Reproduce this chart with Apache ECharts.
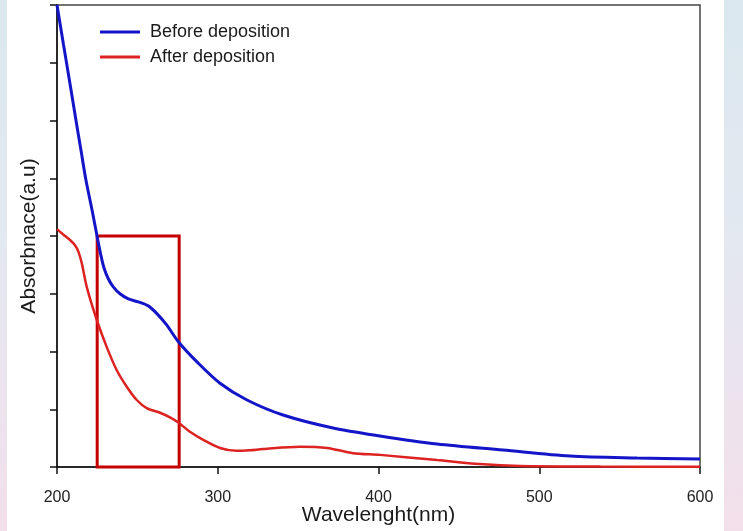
<!DOCTYPE html>
<html>
<head>
<meta charset="utf-8">
<script src="https://cdn.jsdelivr.net/npm/echarts@6/dist/echarts.min.js"></script>
<style>
  html, body { margin: 0; padding: 0; }
  body {
    width: 743px; height: 531px; position: relative; overflow: hidden;
    background: linear-gradient(180deg, #dbe8ef 0%, #e3e8f1 45%, #f3dfea 100%);
  }
  #panel { position: absolute; left: 7px; top: 0; width: 717px; height: 531px; background: #ffffff; }
  #chart { position: absolute; left: 0; top: 0; width: 743px; height: 531px; }
</style>
</head>
<body>
<div id="panel"></div>
<div id="chart"></div>
<script>
// UV-Vis absorbance spectra (wavelength in nm, absorbance in arbitrary units)
const seriesNames = ['Before deposition', 'After deposition'];

const beforeWavelength = [200, 204, 208, 212, 215, 218, 221.8, 224.9, 227.2, 229.2, 231.9, 235.0, 239.2, 244.4, 250.6, 256.8, 262.0, 268.2, 275.5, 287.1, 301.4, 318.2, 340.6, 371.7, 400.9, 436.4, 477.4, 519.1, 560.8, 600];
const beforeAbsorbance = [8.00, 7.32, 6.65, 5.97, 5.47, 4.97, 4.45, 4.00, 3.68, 3.45, 3.26, 3.12, 3.00, 2.91, 2.86, 2.79, 2.66, 2.46, 2.17, 1.82, 1.45, 1.16, 0.90, 0.675, 0.537, 0.398, 0.294, 0.19, 0.156, 0.139];

const afterWavelength = [200, 203.7, 208.1, 211.2, 213.3, 215.4, 218.5, 224.7, 230.9, 237.1, 243.4, 249.6, 255.8, 264.1, 270.3, 275.5, 282.7, 291.0, 301.4, 311.8, 320.0, 328.1, 351.2, 368.0, 384.1, 401.0, 436.4, 463.0, 488.0, 538.0, 600];
const afterAbsorbance = [4.12, 4.03, 3.93, 3.84, 3.73, 3.53, 3.12, 2.55, 2.08, 1.68, 1.39, 1.16, 1.02, 0.94, 0.86, 0.77, 0.61, 0.47, 0.33, 0.28, 0.29, 0.31, 0.35, 0.33, 0.24, 0.21, 0.12, 0.05, 0.017, 0.008, 0.005];

// Highlighted shoulder region: wavelength span and absorbance span
const boxWavelength = [225, 276];
const boxAbsorbance = [0, 4];

const xTicks = { min: 200, max: 600, step: 100 };
const yTicks = { min: 0, max: 8, step: 1 };

const pairs = (xs, ys) => xs.map((x, i) => [x, ys[i]]);

const chart = echarts.init(document.getElementById('chart'), null, { renderer: 'canvas' });

const axisFont = 'Liberation Sans, Arial, sans-serif';

chart.setOption({
  backgroundColor: 'transparent',
  animation: false,
  grid: {
    left: 57, right: 43, top: 5, bottom: 64,
    outerBoundsMode: 'none',
    containLabel: false,
    show: true, borderColor: '#454545', borderWidth: 1.5, backgroundColor: 'transparent'
  },
  legend: {
    orient: 'vertical',
    left: 100, top: 23,
    padding: 0,
    icon: 'rect',
    itemWidth: 40, itemHeight: 3, itemGap: 7,
    textStyle: { fontFamily: axisFont, fontSize: 18, color: '#1a1a1a', padding: [0, 0, 0, 5] },
    data: seriesNames
  },
  xAxis: {
    type: 'value',
    min: xTicks.min, max: xTicks.max, interval: xTicks.step,
    name: 'Wavelenght(nm)',
    nameLocation: 'middle', nameGap: 38,
    nameMoveOverlap: false,
    nameTextStyle: { fontFamily: axisFont, fontSize: 21, color: '#1a1a1a' },
    axisLine: { lineStyle: { color: '#111', width: 1.5 } },
    axisTick: { inside: false, length: 7, lineStyle: { color: '#111', width: 1.5 } },
    axisLabel: { fontFamily: axisFont, fontSize: 16, color: '#222', margin: 23 },
    splitLine: { show: false }
  },
  yAxis: {
    type: 'value',
    min: yTicks.min, max: yTicks.max, interval: yTicks.step,
    name: 'Absorbnace(a.u)',
    nameLocation: 'middle', nameGap: 17, nameRotate: 90,
    nameMoveOverlap: false,
    nameTextStyle: { fontFamily: axisFont, fontSize: 21, color: '#1a1a1a' },
    axisLine: { show: true, lineStyle: { color: '#111', width: 1.5 } },
    axisTick: { show: true, inside: false, length: 7, lineStyle: { color: '#111', width: 1.5 } },
    axisLabel: { show: false },
    splitLine: { show: false }
  },
  series: [
    {
      name: seriesNames[0],
      type: 'line',
      symbol: 'none',
      smooth: 0.3,
      lineStyle: { color: '#1414c8', width: 3 },
      itemStyle: { color: '#1414c8' },
      data: pairs(beforeWavelength, beforeAbsorbance),
      z: 3
    },
    {
      name: seriesNames[1],
      type: 'line',
      symbol: 'none',
      smooth: 0.3,
      lineStyle: { color: '#dd2222', width: 2.5 },
      itemStyle: { color: '#dd2222' },
      data: pairs(afterWavelength, afterAbsorbance),
      z: 3,
      markArea: {
        silent: true,
        itemStyle: { color: 'rgba(0,0,0,0)', borderColor: '#c40000', borderWidth: 3 },
        data: [[
          { coord: [boxWavelength[0], boxAbsorbance[1]] },
          { coord: [boxWavelength[1], boxAbsorbance[0]] }
        ]]
      }
    }
  ]
});
</script>
</body>
</html>
